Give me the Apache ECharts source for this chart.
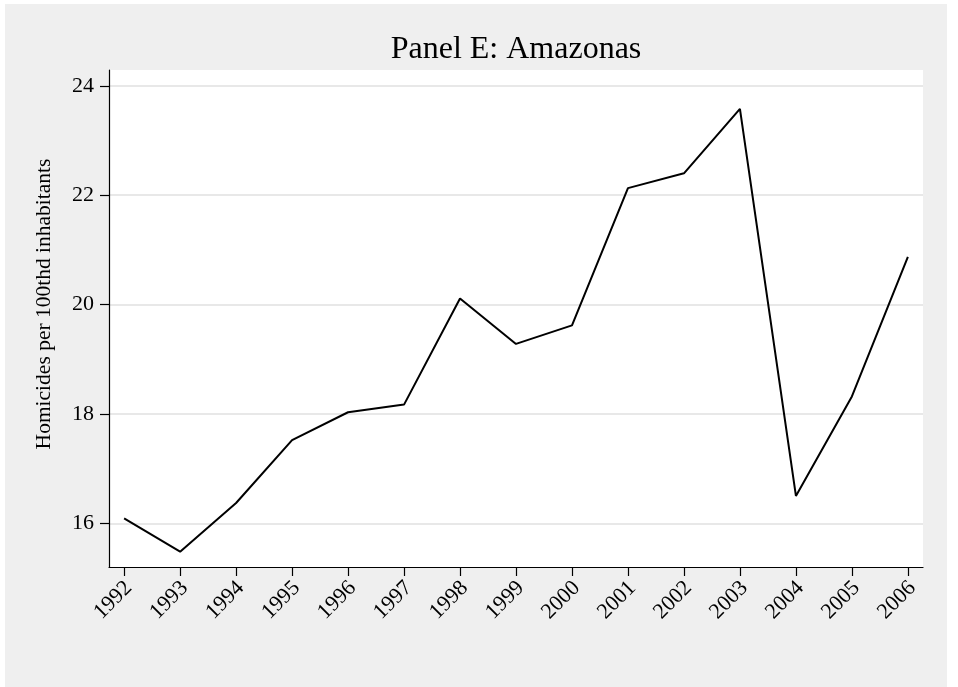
<!DOCTYPE html>
<html>
<head>
<meta charset="utf-8">
<script src="https://cdn.jsdelivr.net/npm/echarts@6/dist/echarts.min.js"></script>
<style>
  html, body { margin: 0; padding: 0; background: #ffffff; }
  #chart { position: absolute; left: 5px; top: 4px; width: 942px; height: 683px; }
</style>
</head>
<body>
<div id="chart"></div>
<script>
// 年份与数值
const years = [1992, 1993, 1994, 1995, 1996, 1997, 1998, 1999, 2000, 2001, 2002, 2003, 2004, 2005, 2006];
const homicides = [16.09, 15.48, 16.37, 17.52, 18.03, 18.17, 20.11, 19.28, 19.62, 22.13, 22.40, 23.58, 16.50, 18.32, 20.87];
const yTicks = [16, 18, 20, 22, 24];

const titleText = "Panel E: Amazonas";
const yAxisTitle = "Homicides per 100thd inhabitants";

const serif = "'Liberation Serif', 'DejaVu Serif', serif";

const chart = echarts.init(document.getElementById("chart"));

const option = {
  backgroundColor: "#efefef",
  animation: false,
  grid: {
    left: 104,
    top: 66,
    right: 24,
    bottom: 120,
    show: true,
    backgroundColor: "#ffffff",
    borderWidth: 0,
  },
  graphic: [
    {
      type: "text",
      x: 511,
      y: 46,
      style: {
        text: titleText,
        font: "32px " + serif,
        fill: "#000",
        textAlign: "center",
        textVerticalAlign: "middle",
      },
    },
    {
      type: "text",
      x: 39,
      y: 300,
      rotation: Math.PI / 2,
      style: {
        text: yAxisTitle,
        font: "21.5px " + serif,
        fill: "#000",
        textAlign: "center",
        textVerticalAlign: "middle",
      },
    },
  ],
  xAxis: {
    type: "value",
    min: 1991.73,
    max: 2006.27,
    axisLine: { show: true, onZero: false, lineStyle: { color: "#000", width: 1.2 } },
    axisTick: { show: true, length: 9, customValues: years, lineStyle: { color: "#000", width: 1.2 } },
    axisLabel: {
      customValues: years,
      rotate: 45,
      margin: 13,
      verticalAlign: "top",
      lineHeight: 13,
      fontFamily: serif,
      fontSize: 22,
      color: "#000",
      formatter: (v) => String(v),
    },
    splitLine: { show: false },
  },
  yAxis: {
    type: "value",
    min: 15.2,
    max: 24.29,
    axisLine: { show: true, onZero: false, lineStyle: { color: "#000", width: 1.2 } },
    axisTick: { show: true, length: 9, customValues: yTicks, lineStyle: { color: "#000", width: 1.2 } },
    axisLabel: {
      customValues: yTicks,
      margin: 15,
      fontFamily: serif,
      fontSize: 22,
      color: "#000",
    },
    splitLine: { show: true, lineStyle: { color: "#e8e8e8", width: 2 } },
  },
  series: [
    {
      type: "line",
      data: years.map((y, i) => [y, homicides[i]]),
      symbol: "none",
      lineStyle: { color: "#000", width: 2 },
    },
  ],
};

chart.setOption(option);
</script>
</body>
</html>
